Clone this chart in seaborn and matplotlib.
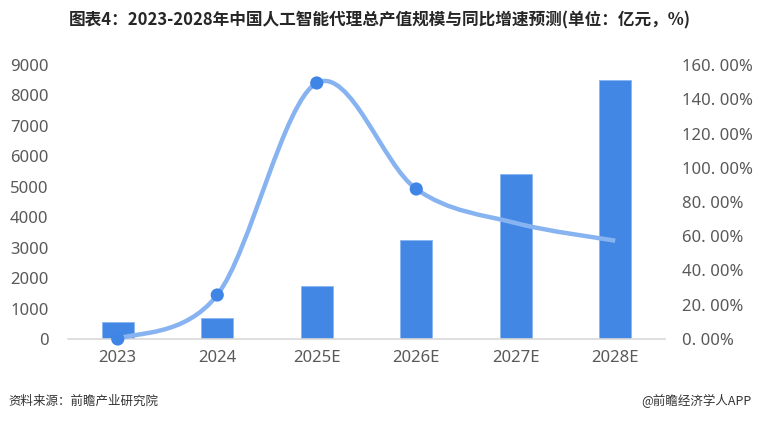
import numpy as np
import pandas as pd
import seaborn as sns
import matplotlib.pyplot as plt
from matplotlib.path import Path
from matplotlib.patches import PathPatch
from matplotlib.ticker import FuncFormatter

# data
years = ["2023", "2024", "2025E", "2026E", "2027E", "2028E"]
scale = [558, 700, 1740, 3252, 5420, 8508]          # 亿元
growth = [0.0, 25.7, 149.5, 87.6, 67.7, 57.4]       # %
marked = [True, True, True, True, False, False]

title = "图表4：2023-2028年中国人工智能代理总产值规模与同比增速预测(单位：亿元，%)"
source = "资料来源：前瞻产业研究院"
credit = "@前瞻经济学人APP"

sns.set_style("white")
plt.rcParams["font.family"] = ["Noto Sans", "Noto Sans CJK SC", "DejaVu Sans"]

bar_color = "#4287e4"
line_color = "#88b3f1"
dot_color = "#3f85e6"
tick_color = "#595959"

df = pd.DataFrame({"year": years, "scale": scale, "growth": growth})

fig = plt.figure(figsize=(7.6, 4.22), dpi=100)
ax = fig.add_axes([68 / 760, 83 / 422, 597 / 760, 274 / 422])

sns.barplot(data=df, x="year", y="scale", ax=ax, color=bar_color, saturation=1,
            width=0.32, edgecolor="#8ab6f2", linewidth=0.6, zorder=2)
ax.set_xlim(-0.5, 5.5)
ax.set_ylim(0, 9000)
ax.set_yticks(np.arange(0, 9001, 1000))
ax.set_xlabel("")
ax.set_ylabel("")
for s in ["top", "left", "right"]:
    ax.spines[s].set_visible(False)
ax.spines["bottom"].set_color("#d9d9d9")
ax.spines["bottom"].set_linewidth(1.2)
ax.tick_params(axis="both", length=0, labelsize=12, colors=tick_color)
ax.tick_params(axis="x", pad=8)
ax.tick_params(axis="y", pad=14)

# growth line on right axis, smoothed with bezier segments
ax2 = ax.twinx()
ax2.set_ylim(0, 160)
ax2.set_yticks(np.arange(0, 161, 20))
ax2.yaxis.set_major_formatter(FuncFormatter(lambda v, p: f"{v:.2f}%".replace(".", ". ")))
for s in ["top", "left", "right", "bottom"]:
    ax2.spines[s].set_visible(False)
ax2.tick_params(axis="y", length=0, labelsize=12, colors=tick_color, pad=12)

pts = np.column_stack([np.arange(len(growth)), growth]).astype(float)
ext = np.vstack([pts[0], pts, pts[-1]])
verts = [tuple(pts[0])]
codes = [Path.MOVETO]
for i in range(len(pts) - 1):
    p0, p1, p2, p3 = ext[i], ext[i + 1], ext[i + 2], ext[i + 3]
    c1 = p1 + (p2 - p0) / 6
    c2 = p2 - (p3 - p1) / 6
    verts += [tuple(c1), tuple(c2), tuple(p2)]
    codes += [Path.CURVE4] * 3
ax2.add_patch(PathPatch(Path(verts, codes), facecolor="none", edgecolor=line_color,
                        linewidth=3.2, capstyle="butt", zorder=3, clip_on=False))

dots = df[marked]
sns.scatterplot(x=np.arange(len(years))[marked], y=dots["growth"], ax=ax2, s=90,
                color=dot_color, edgecolor="none", zorder=4, clip_on=False)
ax2.set_ylabel("")
ax2.set_xlim(-0.5, 5.5)

fig.text(0.5, 1 - 20 / 422, title, ha="center", va="center", fontsize=12,
         fontweight="bold", color="#262626",
         family=["Noto Sans CJK SC", "DejaVu Sans"])
fig.text(8 / 760, 1 - 401 / 422, source, ha="left", va="center", fontsize=9,
         color="#333333", family=["Noto Sans CJK SC", "DejaVu Sans"])
fig.text(752 / 760, 1 - 401 / 422, credit, ha="right", va="center", fontsize=9,
         color="#333333", family=["Noto Sans CJK SC", "DejaVu Sans"])

fig.savefig("out.png", dpi=100)
